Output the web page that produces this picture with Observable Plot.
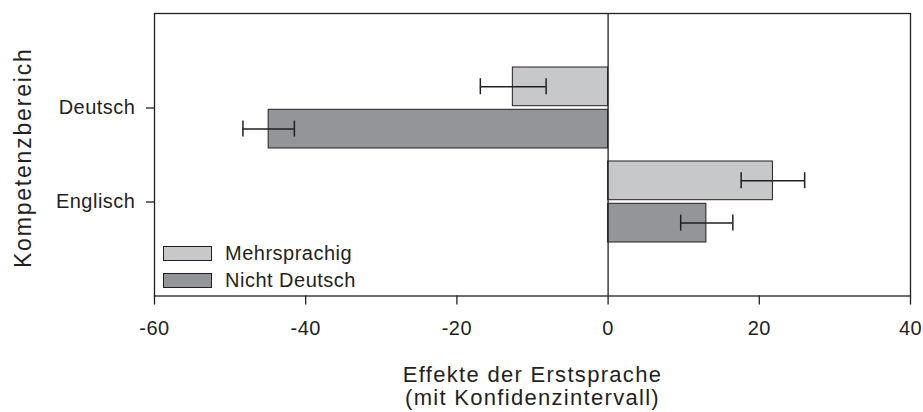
<!DOCTYPE html>
<html><head><meta charset="utf-8">
<script src="https://cdn.jsdelivr.net/npm/d3@7"></script>
<script src="https://cdn.jsdelivr.net/npm/@observablehq/plot@0.6"></script>
<style>
body{margin:0;background:#fff;}
#wrap{position:relative;width:923px;height:412px;font-family:"Liberation Sans",Arial,sans-serif;color:#231f20;}
.lg{position:absolute;left:163px;display:flex;align-items:center;font-size:20px;line-height:1;letter-spacing:0.5px;}
.sw{width:47px;height:13px;border:1px solid #231f20;margin-right:13px;}
</style></head><body><div id="wrap"></div>
<script>
const categories = ["Deutsch", "Englisch"];
const series = ["Mehrsprachig", "Nicht Deutsch"];
const effectMehrsprachig = [-12.6, 21.8];
const ciLowMehrsprachig = [-16.9, 17.6];
const ciHighMehrsprachig = [-8.2, 26.0];
const effectNichtDeutsch = [-44.9, 13.0];
const ciLowNichtDeutsch = [-48.3, 9.6];
const ciHighNichtDeutsch = [-41.5, 16.5];
const xTicks = [-60, -40, -20, 0, 20, 40];
const xTitle = "Effekte der Erstsprache\n(mit Konfidenzintervall)";
const yTitle = "Kompetenzbereich";
const colors = ["#c7c8ca", "#939598"];
const ink = "#231f20";

const rowsM = categories.map((c, i) => ({cat: c, zero: 0, value: effectMehrsprachig[i], lo: ciLowMehrsprachig[i], hi: ciHighMehrsprachig[i]}));
const rowsN = categories.map((c, i) => ({cat: c, zero: 0, value: effectNichtDeutsch[i], lo: ciLowNichtDeutsch[i], hi: ciHighNichtDeutsch[i]}));

const font = "Liberation Sans, Arial, sans-serif";
const plot = Plot.plot({
  width: 923, height: 412,
  marginLeft: 154, marginRight: 13, marginTop: 13, marginBottom: 116.5,
  style: {fontFamily: font, fontSize: "20px", color: ink, background: "white", overflow: "visible"},
  x: {domain: [-60, 40]},
  y: {domain: categories, paddingInner: 0.141, paddingOuter: 0.57},
  marks: [
    Plot.barX(rowsM, {x1: "zero", x2: "value", y: "cat", fill: colors[0], stroke: ink, strokeWidth: 1, insetBottom: 42.3}),
    Plot.barX(rowsN, {x1: "zero", x2: "value", y: "cat", fill: colors[1], stroke: ink, strokeWidth: 1, insetTop: 42.3}),
    Plot.ruleX([0], {stroke: ink, strokeWidth: 1.3}),
    Plot.ruleY(rowsM, {y: "cat", x1: "lo", x2: "hi", dy: -21.3, stroke: ink, strokeWidth: 1.5}),
    Plot.ruleY(rowsN, {y: "cat", x1: "lo", x2: "hi", dy: 21.1, stroke: ink, strokeWidth: 1.5}),
    Plot.tickX(rowsM, {x: "lo", y: "cat", insetTop: 11.2, insetBottom: 53.8, stroke: ink, strokeWidth: 1.5}),
    Plot.tickX(rowsM, {x: "hi", y: "cat", insetTop: 11.2, insetBottom: 53.8, stroke: ink, strokeWidth: 1.5}),
    Plot.tickX(rowsN, {x: "lo", y: "cat", insetTop: 53.6, insetBottom: 11.4, stroke: ink, strokeWidth: 1.5}),
    Plot.tickX(rowsN, {x: "hi", y: "cat", insetTop: 53.6, insetBottom: 11.4, stroke: ink, strokeWidth: 1.5}),
    Plot.frame({stroke: ink, strokeWidth: 1.3}),
    Plot.axisX({ticks: xTicks, tickSize: 9, tickPadding: 16, label: null, fontSize: 20, tickFormat: d => String(d), stroke: ink, strokeWidth: 1.3}),
    Plot.axisY({tickSize: 8, tickPadding: 11, label: null, fontSize: 20, stroke: ink, strokeWidth: 1.3}),
    Plot.text([xTitle], {frameAnchor: "bottom", lineAnchor: "top", dy: 69, fontSize: 22, lineHeight: 1.07, fill: ink}),
    Plot.text([yTitle], {frameAnchor: "left", textAnchor: "middle", rotate: -90, dx: -131, dy: 3, fontSize: 23, fill: ink})
  ]
});
const wrap = document.getElementById("wrap");
wrap.appendChild(plot);
const sel = d3.select(plot);
sel.selectAll('g[aria-label="x-axis tick label"] text, g[aria-label="y-axis tick label"] text').style("letter-spacing", "0.5px");
const titleTexts = sel.selectAll('g[aria-label="text"] text').nodes();
if (titleTexts[0]) d3.select(titleTexts[0]).style("letter-spacing", "1.3px");
if (titleTexts[1]) d3.select(titleTexts[1]).style("letter-spacing", "1.8px");
const legendTops = [245, 272];
series.forEach((s, i) => {
  const d = document.createElement("div");
  d.className = "lg";
  d.style.top = (legendTops[i] - 2) + "px";
  d.innerHTML = `<div class="sw" style="background:${colors[i]}"></div><span>${s}</span>`;
  wrap.appendChild(d);
});
</script></body></html>
